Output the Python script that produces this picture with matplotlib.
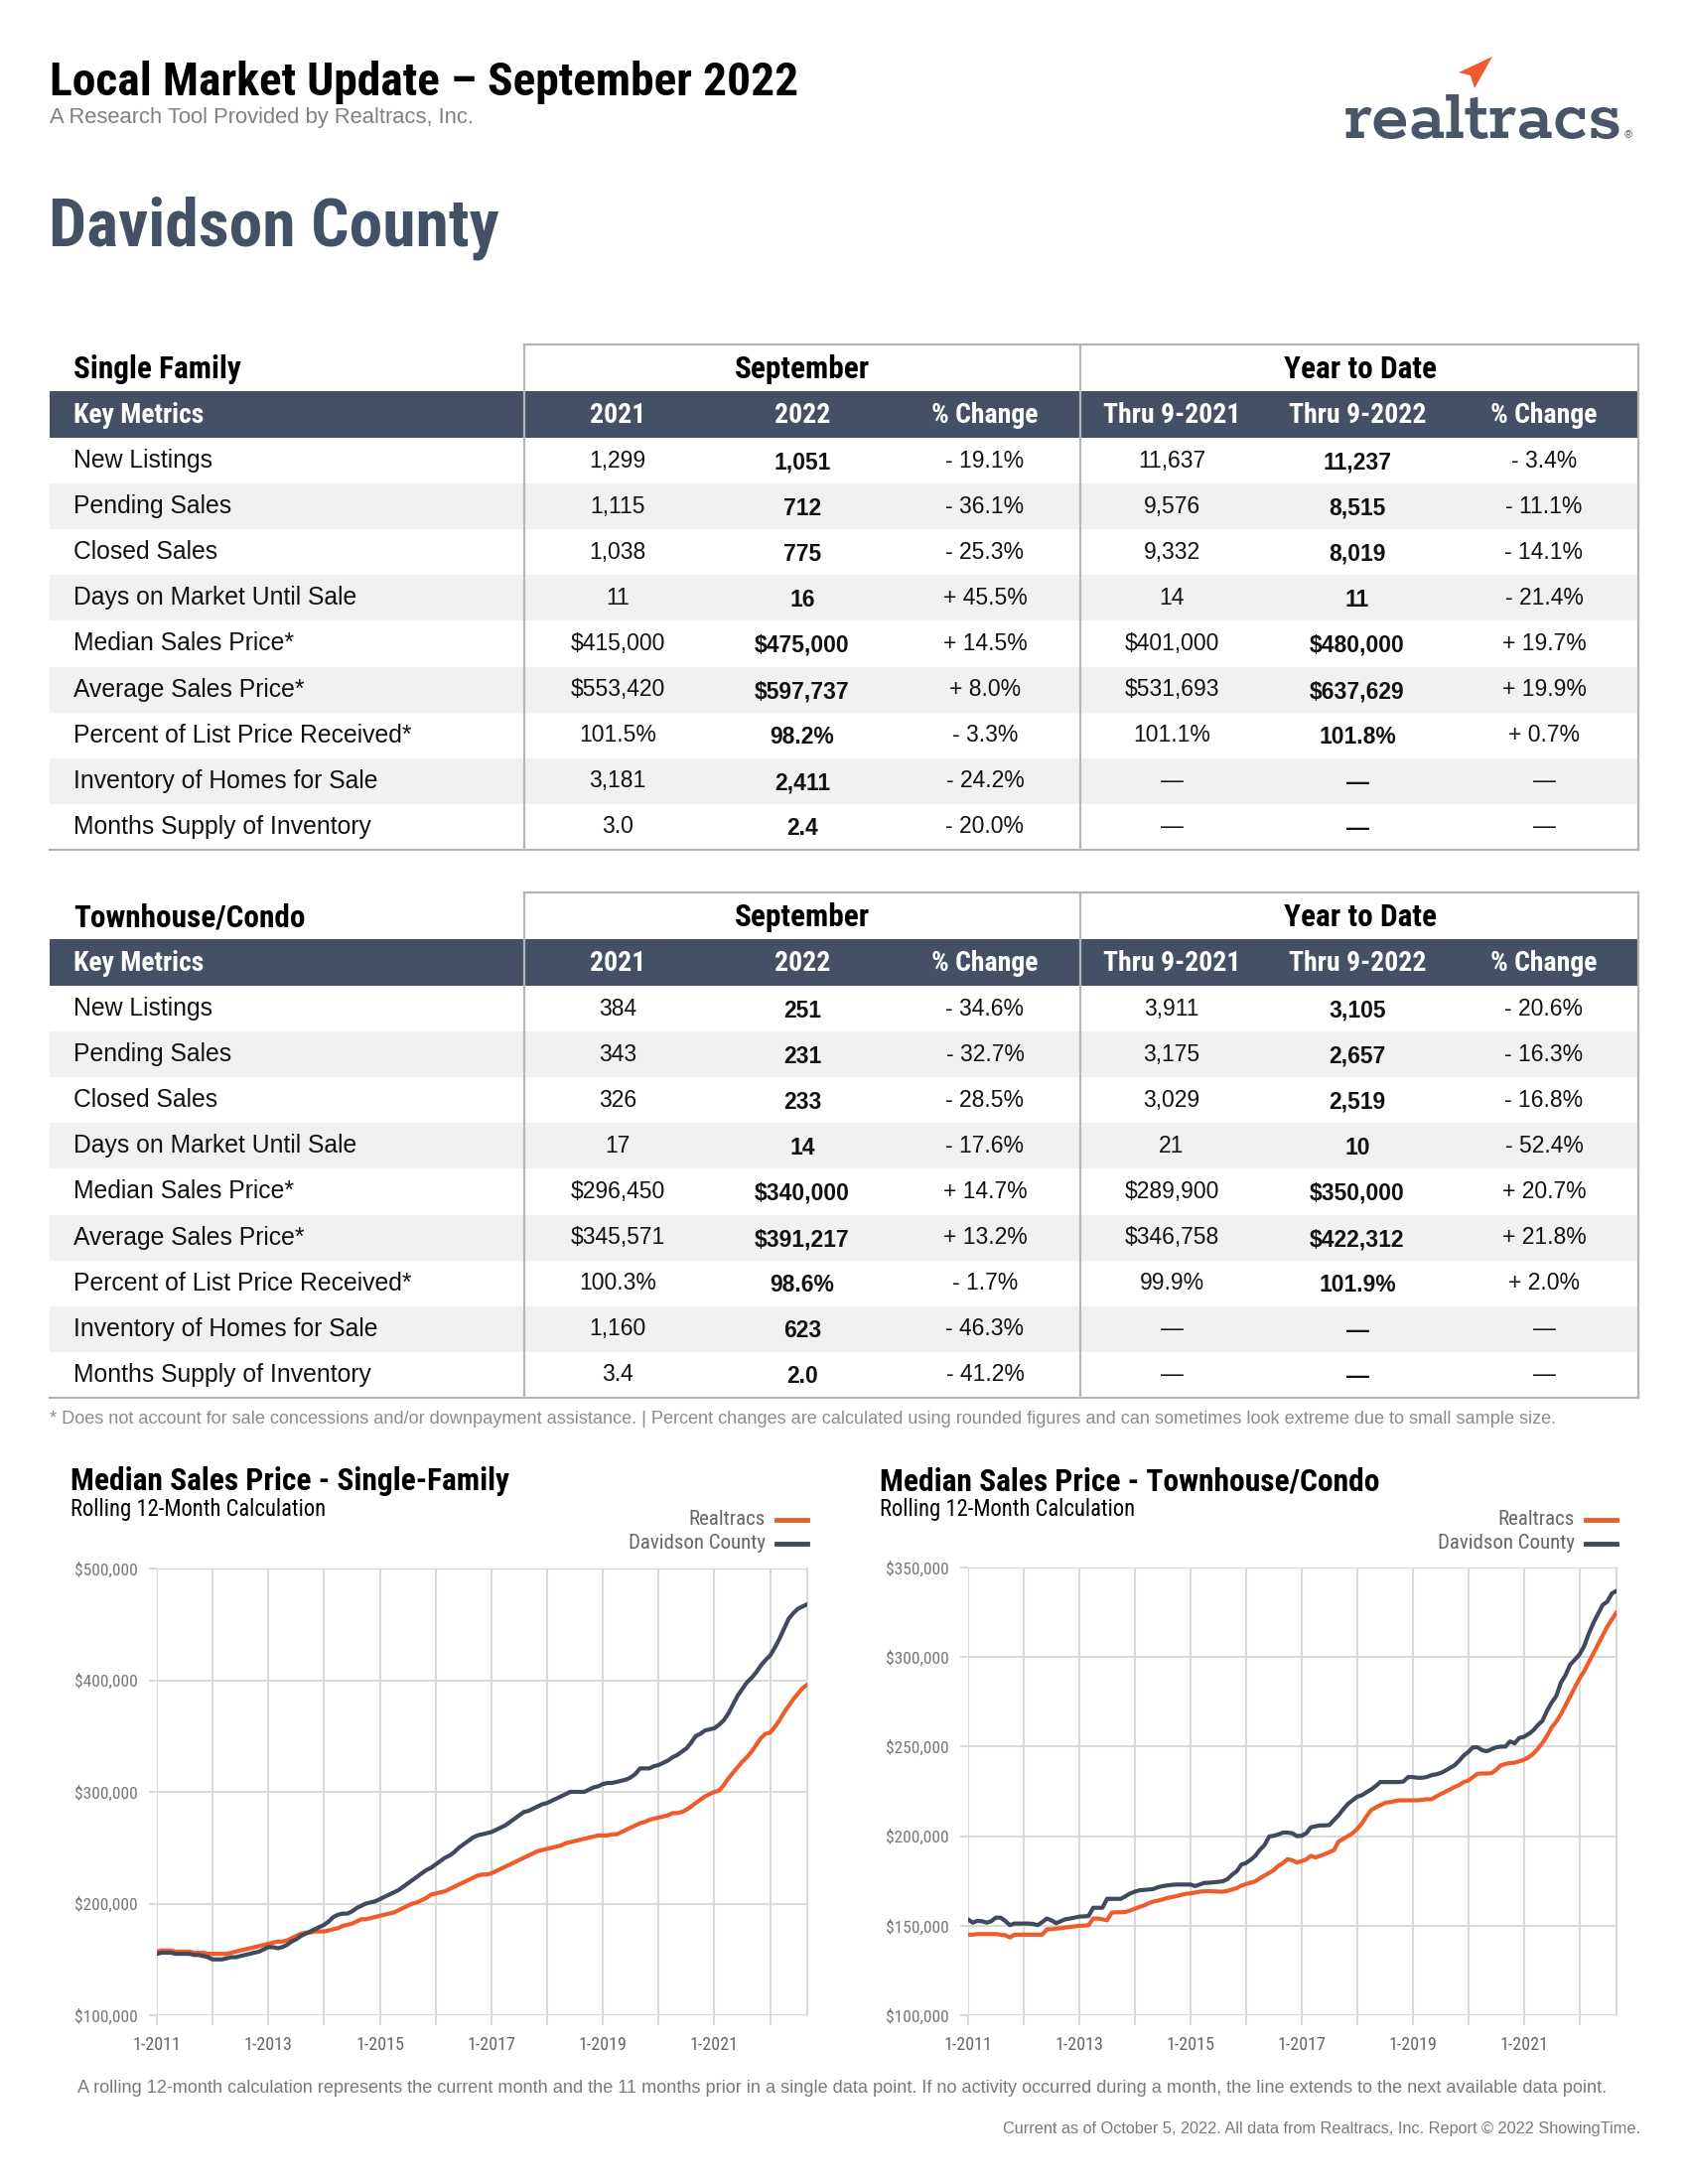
import matplotlib
matplotlib.use("Agg")
import matplotlib.pyplot as plt
from matplotlib import font_manager
from matplotlib.patches import Rectangle, Polygon
from matplotlib.ticker import FuncFormatter


def pick(*cands):
    names = {f.name for f in font_manager.fontManager.ttflist}
    for c in cands:
        if c in names:
            return c
    return 'DejaVu Sans'


COND = pick('Roboto Condensed', 'Archivo Narrow', 'PT Sans Narrow', 'Liberation Sans Narrow')
SANS = pick('Liberation Sans', 'Arimo', 'DejaVu Sans')
SLAB = pick('Rokkitt', 'Zilla Slab', 'DejaVu Serif')

SLATE = '#445066'
ORANGE = '#ef5b2a'
DARK = '#404a5c'
GRID = '#d9d9d9'
BORDER = '#b4b4b4'
SHADE = '#f1f1f1'

# ---- table data ----
metrics = ["New Listings", "Pending Sales", "Closed Sales", "Days on Market Until Sale",
           "Median Sales Price*", "Average Sales Price*", "Percent of List Price Received*",
           "Inventory of Homes for Sale", "Months Supply of Inventory"]
col_heads = ["2021", "2022", "% Change", "Thru 9-2021", "Thru 9-2022", "% Change"]

sf_sep_2021 = ["1,299", "1,115", "1,038", "11", "$415,000", "$553,420", "101.5%", "3,181", "3.0"]
sf_sep_2022 = ["1,051", "712", "775", "16", "$475,000", "$597,737", "98.2%", "2,411", "2.4"]
sf_sep_chg = ["- 19.1%", "- 36.1%", "- 25.3%", "+ 45.5%", "+ 14.5%", "+ 8.0%", "- 3.3%", "- 24.2%", "- 20.0%"]
sf_ytd_2021 = ["11,637", "9,576", "9,332", "14", "$401,000", "$531,693", "101.1%", "—", "—"]
sf_ytd_2022 = ["11,237", "8,515", "8,019", "11", "$480,000", "$637,629", "101.8%", "—", "—"]
sf_ytd_chg = ["- 3.4%", "- 11.1%", "- 14.1%", "- 21.4%", "+ 19.7%", "+ 19.9%", "+ 0.7%", "—", "—"]

tc_sep_2021 = ["384", "343", "326", "17", "$296,450", "$345,571", "100.3%", "1,160", "3.4"]
tc_sep_2022 = ["251", "231", "233", "14", "$340,000", "$391,217", "98.6%", "623", "2.0"]
tc_sep_chg = ["- 34.6%", "- 32.7%", "- 28.5%", "- 17.6%", "+ 14.7%", "+ 13.2%", "- 1.7%", "- 46.3%", "- 41.2%"]
tc_ytd_2021 = ["3,911", "3,175", "3,029", "21", "$289,900", "$346,758", "99.9%", "—", "—"]
tc_ytd_2022 = ["3,105", "2,657", "2,519", "10", "$350,000", "$422,312", "101.9%", "—", "—"]
tc_ytd_chg = ["- 20.6%", "- 16.3%", "- 16.8%", "- 52.4%", "+ 20.7%", "+ 21.8%", "+ 2.0%", "—", "—"]

# ---- chart data: rolling 12-month median price, $ thousands, Jan 2011 .. Sep 2022 ----
rt_sf = [157, 158, 158, 158, 157, 157, 157, 157, 156, 156, 156, 155,
         155, 155, 155, 155, 156, 157, 158, 159, 160, 161, 162, 163,
         164, 165, 166, 166, 167, 169, 171, 173, 174, 174, 175, 175,
         175, 176, 177, 178, 180, 181, 182, 184, 186, 186, 187, 188,
         189, 190, 191, 192, 194, 196, 198, 200, 201, 203, 205, 208,
         209, 210, 211, 213, 215, 217, 219, 221, 223, 225, 226, 226,
         227, 229, 231, 233, 235, 237, 239, 241, 243, 245, 247, 248,
         249, 250, 251, 252, 254, 255, 256, 257, 258, 259, 260, 261,
         261, 261, 262, 262, 264, 266, 268, 270, 272, 273, 275, 276,
         277, 278, 279, 281, 281, 282, 284, 287, 290, 293, 296, 298,
         300, 301, 306, 312, 317, 322, 327, 331, 336, 342, 348, 352,
         353, 358, 364, 371, 377, 383, 388, 393, 396]
dv_sf = [155, 156, 156, 156, 155, 155, 155, 155, 154, 154, 153, 152,
         150, 150, 150, 151, 152, 152, 153, 154, 155, 156, 157, 159,
         161, 161, 160, 161, 163, 166, 168, 171, 173, 175, 177, 179,
         181, 184, 188, 190, 191, 191, 193, 196, 198, 200, 201, 202,
         204, 206, 208, 210, 212, 215, 218, 221, 224, 227, 230, 232,
         235, 238, 241, 243, 246, 250, 253, 256, 259, 261, 262, 263,
         264, 266, 268, 270, 273, 276, 279, 282, 283, 285, 287, 289,
         290, 292, 294, 296, 298, 300, 300, 300, 300, 302, 304, 305,
         307, 308, 308, 309, 310, 311, 313, 316, 321, 321, 321, 323,
         324, 326, 328, 331, 333, 336, 339, 344, 350, 352, 355, 356,
         357, 360, 364, 370, 378, 386, 392, 398, 402, 407, 413, 418,
         422, 429, 437, 446, 455, 460, 464, 466, 468]
rt_tc = [145, 145, 145.3, 145.3, 145.3, 145.3, 145.3, 145, 144.7, 143.4, 145, 145,
         145, 145, 145, 145, 145, 148, 148, 148.4, 148.6, 149, 149.3, 149.6,
         150, 150, 150.3, 154, 154, 153.6, 153, 157.3, 157.5, 157.5, 157.7, 158.5,
         159.5, 160.5, 161.3, 162.5, 163.5, 164, 164.7, 165.5, 166, 166.5, 167.2, 167.8,
         168, 168.5, 169, 169.2, 169.3, 169.2, 169, 169, 169.5, 170.2, 171, 172.4,
         173.2, 174, 174.8, 176.5, 178, 179.5, 181, 183.5, 185, 187.2, 186.5, 185.3,
         186, 187, 189, 188.1, 189, 190, 191, 192.3, 197, 198.5, 200, 201.6,
         204, 207, 211, 214.5, 216, 217.3, 218.6, 219, 219.5, 220, 220, 220,
         220, 220, 220.3, 220.6, 220.6, 222, 223.5, 224.7, 226, 227.4, 228.5, 230.2,
         231, 233, 234.8, 235, 235, 235.2, 237, 239.5, 240.3, 240.8, 241, 241.8,
         242.6, 244, 246, 248.7, 252, 256, 260.7, 264, 268.1, 273, 278, 283,
         288, 292, 297, 302, 307, 312, 317, 321, 325]
dv_tc = [153.5, 151.7, 152.7, 152.5, 151.7, 152.5, 154.5, 154.5, 152.7, 150.3, 151.2, 151.2,
         151.2, 151.2, 151, 150.3, 152, 154, 153, 151.4, 152.5, 153.6, 154, 154.5,
         155.1, 155.2, 155.4, 160, 160, 160, 165, 165, 165, 165, 166.5, 168,
         169, 169.8, 170, 170.2, 170.5, 171.5, 172.1, 172.5, 172.8, 173, 173, 173,
         173, 172.1, 173, 173.9, 174, 174.2, 174.5, 174.8, 176, 178.5, 180.4, 184.1,
         185, 186.8, 189, 192.4, 195, 199.8, 200.2, 201, 202, 202, 201.6, 200,
         200.2, 201.6, 204.9, 205.5, 206, 206, 206.2, 209, 211.7, 215, 218, 220,
         222, 222.8, 224.5, 226, 228, 230.2, 230.2, 230.2, 230.2, 230.2, 230.5, 233,
         233, 232.6, 232.6, 233, 234, 234.5, 235.2, 236.5, 238, 239.5, 242, 245,
         247, 249.6, 249.6, 248, 247.4, 248.5, 249.6, 250, 250, 252.9, 251.8, 254.8,
         255.5, 257, 259, 262, 264.4, 270, 274.6, 278.3, 285.7, 290, 295.8, 298.5,
         301.4, 306, 313, 319, 324, 329.1, 330.9, 335.5, 337]
year_labels = ["1-2011", "", "1-2013", "", "1-2015", "", "1-2017", "", "1-2019", "", "1-2021", ""]

W, H = 1700, 2200
fig = plt.figure(figsize=(17, 22), dpi=100)
page = fig.add_axes([0, 0, 1, 1])
page.set_xlim(0, W)
page.set_ylim(H, 0)
page.axis('off')

# header
page.text(50, 96, "Local Market Update – September 2022", family=COND, weight='bold',
          fontsize=34.2, color='black', va='baseline')
page.text(50, 124, "A Research Tool Provided by Realtracs, Inc.", family=SANS,
          fontsize=15.8, color='#808080', va='baseline')
page.text(49, 247, "Davidson County", family=COND, weight='bold', fontsize=48.6,
          color=SLATE, va='baseline')
page.text(1634, 139, "realtracs", family=SLAB, weight='semibold', fontsize=55,
          color='#4a5568', ha='right', va='baseline')
page.text(1636, 139, "®", family=SANS, fontsize=8, color='#4a5568', va='baseline')
page.add_patch(Polygon([(1503, 57), (1469, 73), (1481, 76), (1485, 89)],
                       closed=True, color=ORANGE, lw=0))


def draw_table(top, title, cols):
    row_h = 46.1
    band_top = top + 47
    rows_top = band_top + 47
    bottom = rows_top + row_h * len(metrics)
    col_x = [622, 808, 992, 1180, 1367, 1555]

    # header band and shaded rows
    page.add_patch(Rectangle((50, band_top), 1600, 47, color=SLATE, lw=0))
    for i in range(len(metrics)):
        if i % 2 == 1:
            page.add_patch(Rectangle((50, rows_top + i * row_h), 1600, row_h,
                                     color=SHADE, lw=0))
    # borders
    lw = 1.6
    page.plot([528, 1650], [top, top], color=BORDER, lw=lw)
    page.plot([50, 1650], [bottom, bottom], color=BORDER, lw=lw)
    for x in (528, 1088, 1650):
        page.plot([x, x], [top, bottom], color=BORDER, lw=lw)

    mid = top + 25
    page.text(74, mid, title, family=COND, weight='bold', fontsize=22.5, va='center')
    page.text(808, mid, "September", family=COND, weight='bold', fontsize=22.5,
              va='center', ha='center')
    page.text(1370, mid, "Year to Date", family=COND, weight='bold', fontsize=22.5,
              va='center', ha='center')

    bmid = band_top + 24
    page.text(74, bmid, "Key Metrics", family=COND, weight='bold', fontsize=20,
              color='white', va='center')
    for x, h in zip(col_x, col_heads):
        page.text(x, bmid, h, family=COND, weight='bold', fontsize=20,
                  color='white', va='center', ha='center')

    for i, m in enumerate(metrics):
        y = rows_top + (i + 0.5) * row_h
        page.text(74, y, m, family=SANS, fontsize=17.8, va='center', color='#111111')
        for j, (x, col) in enumerate(zip(col_x, cols)):
            bold = j in (1, 4)
            page.text(x, y + (2 if bold else 0), col[i], family=SANS,
                      weight='bold' if bold else 'normal', fontsize=16.5,
                      va='center', ha='center', color='#111111')


draw_table(347, "Single Family",
           [sf_sep_2021, sf_sep_2022, sf_sep_chg, sf_ytd_2021, sf_ytd_2022, sf_ytd_chg])
draw_table(899, "Townhouse/Condo",
           [tc_sep_2021, tc_sep_2022, tc_sep_chg, tc_ytd_2021, tc_ytd_2022, tc_ytd_chg])

page.text(50, 1430, "* Does not account for sale concessions and/or downpayment assistance. | "
          "Percent changes are calculated using rounded figures and can sometimes look extreme "
          "due to small sample size.", family=SANS, fontsize=13.1, color='#8c8c8c', va='center')


def draw_chart(left, right, top, bottom, title_x, title, rt, dv, ymin, ymax, ystep):
    ax = fig.add_axes([left / W, 1 - bottom / H, (right - left) / W, (bottom - top) / H])
    months = list(range(len(rt)))
    ax.plot(months, rt, color=ORANGE, lw=3, solid_capstyle='round', zorder=3)
    ax.plot(months, dv, color=DARK, lw=3, solid_capstyle='round', zorder=3)
    ax.set_xlim(0, len(rt) - 1)
    ax.set_ylim(ymin, ymax)
    ax.set_xticks(range(0, len(rt), 12))
    ax.set_xticklabels(year_labels, family=COND, fontsize=13, color='#666666')
    ax.set_yticks(range(ymin, ymax + 1, ystep))
    ax.yaxis.set_major_formatter(FuncFormatter(lambda v, p: f"${v * 1000:,.0f}"))
    for lab in ax.get_yticklabels():
        lab.set_family(COND)
        lab.set_fontsize(12.5)
        lab.set_color('#777777')
    ax.grid(True, color=GRID, lw=1.5, zorder=0)
    ax.tick_params(axis='both', color=GRID, width=1.5, length=7, pad=8)
    ax.tick_params(axis='y', length=6, pad=8)
    for s in ('top', 'left', 'bottom'):
        ax.spines[s].set_visible(False)
    ax.spines['right'].set_color(GRID)
    ax.spines['right'].set_linewidth(1.5)
    ax.set_facecolor('none')

    page.text(title_x, 1492, title, family=COND, weight='bold', fontsize=22.7, va='center')
    page.text(title_x, 1521, "Rolling 12-Month Calculation", family=COND, fontsize=16.3,
              va='center')
    for lbl, c, y in (("Realtracs", ORANGE, 1531), ("Davidson County", DARK, 1555)):
        page.text(right - 42, y, lbl, family=COND, fontsize=15, color='#666666',
                  ha='right', va='center')
        page.plot([right - 31, right], [y, y], color=c, lw=3.5)
    return ax


draw_chart(158, 813, 1580, 2030, 71, "Median Sales Price - Single-Family",
           rt_sf, dv_sf, 100, 500, 100)
draw_chart(975, 1628, 1579, 2030, 886, "Median Sales Price - Townhouse/Condo",
           rt_tc, dv_tc, 100, 350, 50)

page.text(848, 2103, "A rolling 12-month calculation represents the current month and the 11 months "
          "prior in a single data point. If no activity occurred during a month, the line extends "
          "to the next available data point.", family=SANS, fontsize=13.1, color='#7a7a7a',
          ha='center', va='center')
page.text(1652, 2144, "Current as of October 5, 2022. All data from Realtracs, Inc. "
          "Report © 2022 ShowingTime.", family=SANS, fontsize=11.7, color='#7a7a7a',
          ha='right', va='center')

fig.savefig("out.png", dpi=100, facecolor='white')
